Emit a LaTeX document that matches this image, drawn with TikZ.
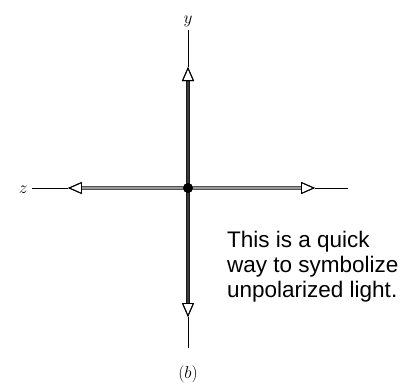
\documentclass[tikz,border=0pt]{standalone}
\usepackage{fontspec}
\newfontfamily\textsans{Liberation Sans}
\usetikzlibrary{arrows.meta}
\begin{document}
\begin{tikzpicture}[x=1pt,y=1pt,
        axis/.style={line width=0.9pt},
        tip/.style={-{Triangle[open,color=black,length=14pt,width=12pt,line width=0.9pt]}},
        vbeam/.style={tip,line width=4.5pt,draw=black!90},
        vcore/.style={tip,line width=1.4pt,draw=gray!45!black},
        hbeam/.style={tip,line width=4pt,draw=gray!65!black},
        hcore/.style={tip,line width=2pt,draw=gray!80},
        lbl/.style={font=\fontsize{17}{19}\selectfont\itshape}]
        \useasboundingbox (-188,-196) rectangle (227,188);
        % axis ends and arrow tips
        \coordinate (yend) at (0,158);
        \coordinate (ytip) at (0,121);
        \coordinate (dend) at (0,-160);
        \coordinate (dtip) at (0,-129);
        \coordinate (zend) at (-156,0);
        \coordinate (ztip) at (-120,0);
        \coordinate (rend) at (160,0);
        \coordinate (rtip) at (127,0);
        \node (ylabel) [lbl, anchor=south] at (0,158) {$y$};
        \node (zlabel) [lbl, anchor=east] at (-157,-2) {$z$};
        \node (caption) [lbl] at (0,-186) {$(b)$};

        \draw[axis] (ytip) -- (yend);
        \draw[axis] (dtip) -- (dend);
        \draw[axis] (ztip) -- (zend);
        \draw[axis] (rtip) -- (rend);

        \draw[hbeam] (0,0) -- (ztip);
        \draw[hcore] (0,0) -- (ztip);
        \draw[hbeam] (0,0) -- (rtip);
        \draw[hcore] (0,0) -- (rtip);
        \draw[vbeam] (0,0) -- (ytip);
        \draw[vcore] (0,0) -- (ytip);
        \draw[vbeam] (0,0) -- (dtip);
        \draw[vcore] (0,0) -- (dtip);
        \node (o) [circle, fill=black, inner sep=0pt, minimum size=10pt] at (0,0) {};

        \node (note) [anchor=base west, align=left, inner sep=0pt,
            font=\textsans\fontsize{22.5}{25}\selectfont] at (39,-109)
            {This is a quick\\way to symbolize\\unpolarized light.};
    \end{tikzpicture}
\end{document}
